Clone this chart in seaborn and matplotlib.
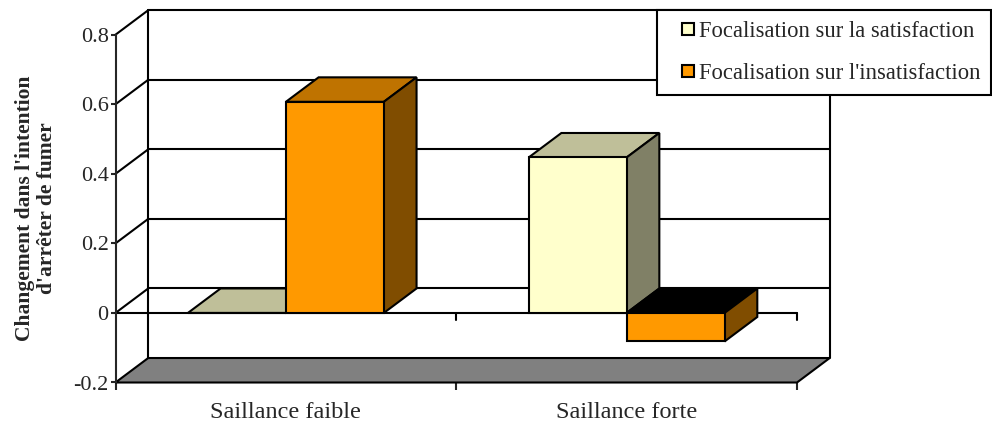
import matplotlib
matplotlib.use("Agg")
import matplotlib.pyplot as plt
from matplotlib.patches import Polygon
from matplotlib.lines import Line2D
import numpy as np
import pandas as pd
import seaborn as sns

# Data
categories = ["Saillance faible", "Saillance forte"]
series = ["Focalisation sur la satisfaction", "Focalisation sur l'insatisfaction"]
satisfaction = [0.0, 0.447]
insatisfaction = [0.607, -0.082]
yticks = [-0.2, 0.0, 0.2, 0.4, 0.6, 0.8]
ytick_labels = ["-0.2", "0", "0.2", "0.4", "0.6", "0.8"]
ylabel = "Changement dans l'intention\nd'arrêter de fumer"

# Face colours: front, top, side
front_colors = ["#FFFFCC", "#FF9900"]
top_colors = ["#BFBF99", "#BF7300"]
side_colors = ["#808066", "#804D00"]
floor_color = "#808080"

df = pd.DataFrame({
    "cond": categories * 2,
    "focus": [series[0]] * 2 + [series[1]] * 2,
    "val": satisfaction + insatisfaction,
})

sns.set_style("white")
plt.rcParams["font.family"] = ["Liberation Serif", "DejaVu Serif"]

W, H = 992, 423
fig = plt.figure(figsize=(W / 100, H / 100), dpi=100)
ax = fig.add_axes([115.5 / W, (H - 382.5) / H, 681.5 / W, 347.8 / H])
ax.set_xlim(-0.5, 1.5)
ax.set_ylim(-0.2, 0.8)

# depth offset of the pseudo-3D box, in data units
DX, DY = 0.096, 0.0704
LW = 1.5
x0w, x1w = -0.5, 1.5

# back wall gridlines and edges
for v in yticks[1:]:
    ax.plot([x0w + DX, x1w + DX], [v + DY, v + DY], color="black", lw=LW, zorder=1, clip_on=False)
    ax.plot([x0w, x0w + DX], [v, v + DY], color="black", lw=LW, zorder=1, clip_on=False)
for xe in (x0w + DX, x1w + DX):
    ax.plot([xe, xe], [-0.2 + DY, 0.8 + DY], color="black", lw=LW, zorder=1, clip_on=False)

# floor
ax.add_patch(Polygon([(x0w, -0.2), (x1w, -0.2), (x1w + DX, -0.2 + DY), (x0w + DX, -0.2 + DY)],
                     closed=True, facecolor=floor_color, edgecolor="black", lw=LW,
                     zorder=1.5, clip_on=False))

# zero line with its tick marks
ax.plot([x0w, x1w], [0, 0], color="black", lw=LW, zorder=2, clip_on=False)
for xt in (0.5, 1.5):
    ax.plot([xt, xt], [0, -0.02], color="black", lw=LW, zorder=2, clip_on=False)

# bars (front faces)
sns.barplot(data=df, x="cond", y="val", hue="focus", order=categories, hue_order=series,
            palette=front_colors, width=0.575, edgecolor="black", linewidth=LW,
            errorbar=None, legend=False, ax=ax, saturation=1)

# top and side faces for each bar
for h, cont in enumerate(ax.containers):
    for c, bar in enumerate(cont.patches):
        bx0 = bar.get_x()
        bx1 = bx0 + bar.get_width()
        v = bar.get_height()
        z = 3 + (c * 2 + h) * 0.1
        bar.set_zorder(z + 0.05)
        t = max(v, 0.0)
        topc = top_colors[h] if v >= 0 else "black"
        ax.add_patch(Polygon([(bx0, t), (bx1, t), (bx1 + DX, t + DY), (bx0 + DX, t + DY)],
                             closed=True, facecolor=topc, edgecolor="black", lw=LW,
                             zorder=z, clip_on=False))
        if v != 0:
            ax.add_patch(Polygon([(bx1, 0), (bx1, v), (bx1 + DX, v + DY), (bx1 + DX, DY)],
                                 closed=True, facecolor=side_colors[h], edgecolor="black",
                                 lw=LW, zorder=z, clip_on=False))

# axes styling
for s in ("top", "right", "bottom"):
    ax.spines[s].set_visible(False)
ax.spines["left"].set_linewidth(LW)
ax.spines["left"].set_zorder(2)
ax.set_yticks(yticks)
ax.set_yticklabels(ytick_labels, fontsize=16)
ax.tick_params(axis="y", direction="out", length=3.5, width=LW, pad=1.5, left=True)
ax.set_xticks([0, 1])
ax.set_xticklabels(categories, fontsize=17.5)
ax.set_xticks([-0.5, 0.5, 1.5], minor=True)
ax.tick_params(axis="x", which="major", length=0, pad=14)
ax.tick_params(axis="x", which="minor", direction="out", length=5, width=LW, bottom=True)
ax.set_xlabel("")
ax.set_ylabel(ylabel, fontsize=15.5, fontweight="bold", linespacing=1.1)
ax.yaxis.set_label_coords(-0.086, 0.5)
ax.grid(False)
ax.patch.set_alpha(0)

# legend
handles = [Line2D([], [], linestyle="none", marker="s", markersize=8,
                  markerfacecolor=fc, markeredgecolor="black", markeredgewidth=LW)
           for fc in front_colors]
leg = fig.legend(handles, series, loc="upper left",
                 bbox_to_anchor=(657 / W, 1 - 10 / H), borderaxespad=0,
                 fontsize=16.3, frameon=True, fancybox=False, framealpha=1,
                 edgecolor="black", borderpad=0.48, labelspacing=0.95,
                 handlelength=1.8, handletextpad=-0.42)
leg.get_frame().set_linewidth(LW)
leg.set_zorder(10)

fig.savefig("out.png", dpi=100)
